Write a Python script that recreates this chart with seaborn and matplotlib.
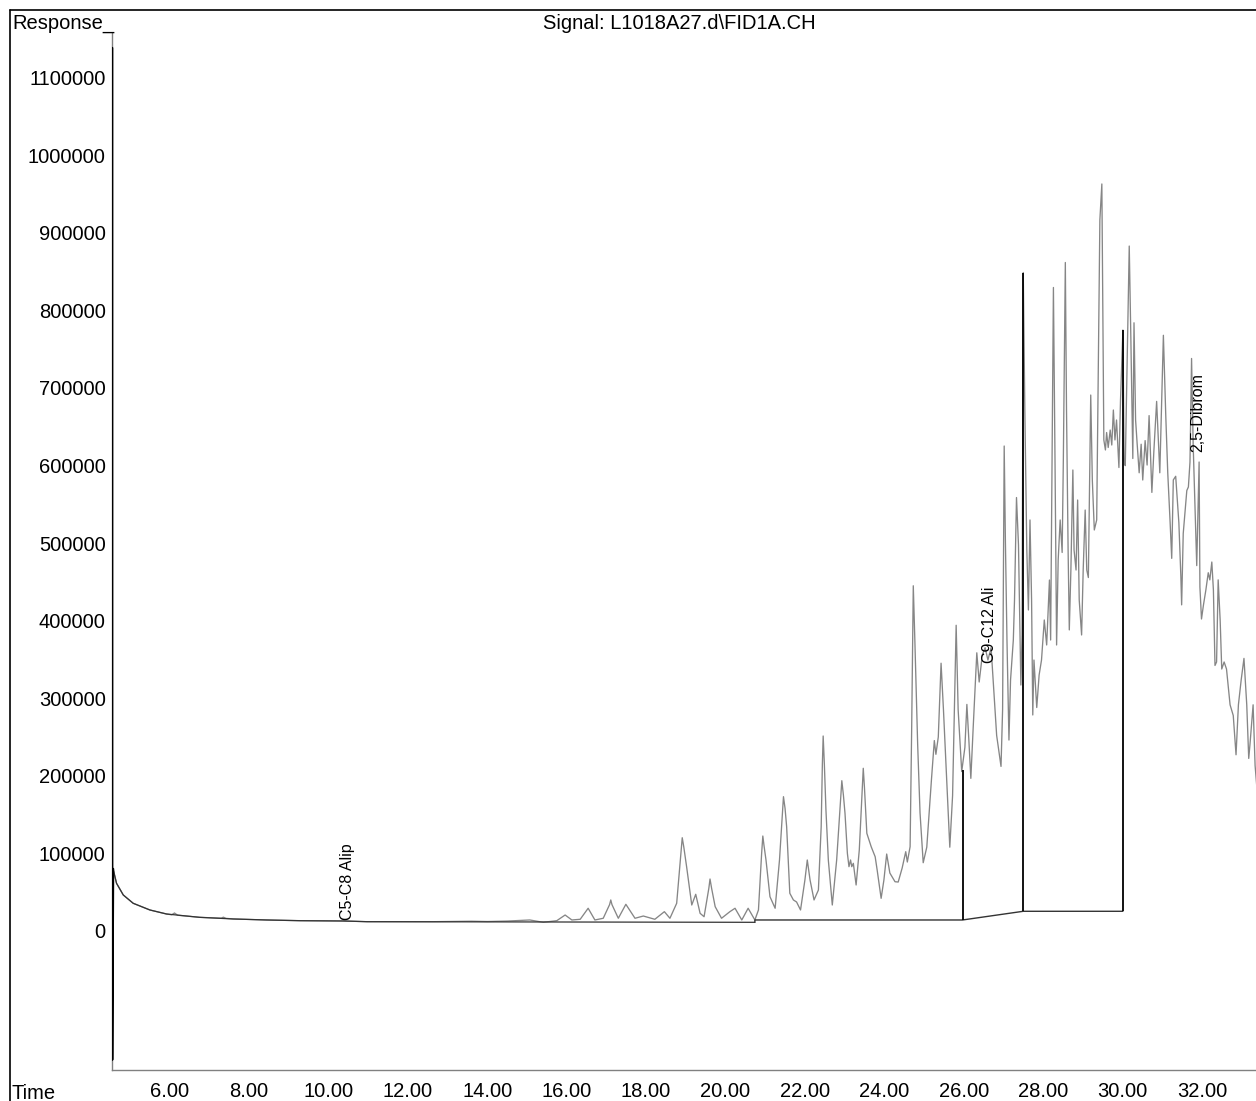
import matplotlib
matplotlib.use("Agg")
import matplotlib.pyplot as plt
from matplotlib.lines import Line2D
from matplotlib.ticker import FixedLocator, MultipleLocator, FormatStrFormatter
import seaborn as sns
import pandas as pd

# ---- FID signal: retention time (min) and detector response ----
time_min = [
    4.58, 4.66, 4.83, 5.08, 5.50, 5.92, 6.05, 6.12, 6.20, 6.76, 7.30, 7.35, 7.42, 7.60,
    8.44, 9.28, 10.37, 10.97, 12.64, 13.60, 14.00, 14.50, 15.07, 15.41, 15.75, 15.96,
    16.13, 16.34, 16.54, 16.71, 16.92, 17.08, 17.11, 17.14, 17.30, 17.49, 17.72, 17.93,
    18.22, 18.46, 18.60, 18.77, 18.87, 18.91, 18.95, 19.02, 19.15, 19.25, 19.36, 19.46,
    19.58, 19.61, 19.65, 19.74, 19.90, 20.11, 20.24, 20.41, 20.57, 20.74, 20.83, 20.91,
    20.94, 20.97, 21.02, 21.12, 21.25, 21.36, 21.42, 21.46, 21.50, 21.54, 21.62, 21.71,
    21.79, 21.89, 22.00, 22.06, 22.13, 22.23, 22.34, 22.41, 22.44, 22.46, 22.49, 22.53,
    22.59, 22.69, 22.80, 22.90, 22.93, 22.97, 23.01, 23.07, 23.11, 23.15, 23.18, 23.22,
    23.29, 23.37, 23.44, 23.47, 23.50, 23.56, 23.67, 23.77, 23.82, 23.92, 23.99, 24.06,
    24.14, 24.27, 24.35, 24.45, 24.54, 24.58, 24.65, 24.69, 24.73, 24.77, 24.84, 24.90,
    24.98, 25.07, 25.19, 25.26, 25.30, 25.36, 25.43, 25.49, 25.57, 25.65, 25.72, 25.81,
    25.86, 25.95, 26.03, 26.08, 26.13, 26.18, 26.24, 26.33, 26.39, 26.47, 26.54, 26.61,
    26.69, 26.75, 26.83, 26.94, 26.98, 27.02, 27.05, 27.09, 27.14, 27.18, 27.25, 27.28,
    27.33, 27.38, 27.44, 27.47, 27.50, 27.54, 27.59, 27.63, 27.67, 27.71, 27.74, 27.77,
    27.84, 27.90, 27.96, 28.03, 28.09, 28.16, 28.19, 28.26, 28.30, 28.34, 28.38, 28.43,
    28.48, 28.51, 28.56, 28.59, 28.63, 28.66, 28.70, 28.75, 28.78, 28.83, 28.87, 28.91,
    28.97, 29.01, 29.06, 29.10, 29.14, 29.18, 29.20, 29.24, 29.29, 29.35, 29.39, 29.43,
    29.48, 29.50, 29.53, 29.57, 29.60, 29.64, 29.69, 29.73, 29.77, 29.81, 29.85, 29.91,
    29.95, 30.01, 30.04, 30.07, 30.11, 30.17, 30.21, 30.26, 30.29, 30.33, 30.37, 30.42,
    30.47, 30.51, 30.57, 30.62, 30.67, 30.74, 30.79, 30.86, 30.94, 31.03, 31.09, 31.14,
    31.20, 31.24, 31.28, 31.34, 31.42, 31.47, 31.49, 31.53, 31.62, 31.66, 31.70, 31.74,
    31.78, 31.87, 31.93, 31.95, 31.99, 32.04, 32.10, 32.16, 32.20, 32.25, 32.29, 32.33,
    32.37, 32.41, 32.46, 32.50, 32.56, 32.62, 32.71, 32.79, 32.86, 32.92, 32.99, 33.06,
    33.13, 33.18, 33.21, 33.29, 33.34, 33.39,
]
response = [
    78600, 61500, 46400, 35700, 27100, 21900, 20900, 23200, 20300, 17600, 16500, 17800, 16300, 15500,
    14200, 13300, 12900, 12000, 12000, 12600, 12200, 12800, 14200, 11200, 13300, 20600,
    14200, 15100, 29300, 14200, 16400, 34000, 40000, 34000, 16400, 34400, 16400, 19300,
    15100, 24900, 16400, 35700, 95800, 120200, 108000, 82900, 33500, 47300, 22800, 18400,
    55000, 67000, 55000, 31300, 16400, 24900, 29300, 14200, 29300, 14200, 27100, 100000,
    122400, 110000, 91500, 44200, 29300, 91500, 140000, 173100, 158000, 134400, 48600, 40000,
    37400, 27100, 65700, 91500, 65700, 40000, 52800, 134400, 215000, 251300, 215000, 155900,
    91500, 33500, 91500, 170000, 193700, 175000, 151700, 100100, 82900, 91500, 82900, 87200,
    59300, 104400, 180000, 209700, 185000, 125900, 108600, 95700, 78600, 42100, 65700, 99200,
    74700, 63500, 63100, 81200, 102200, 88900, 108600, 263200, 444900, 374000, 241000, 152300,
    88000, 108000, 196700, 245400, 227700, 250000, 345100, 285300, 196700, 108000, 174500, 394000,
    285300, 205500, 236600, 292000, 246100, 196700, 263200, 358500, 320900, 356200, 365100, 349200,
    365100, 316400, 252100, 212100, 285300, 625000, 503900, 375000, 246100, 323500, 375000, 426600,
    558600, 497400, 317000, 381400, 848600, 671400, 491000, 413700, 529700, 426600, 278400, 349200,
    288000, 329900, 349200, 400800, 368600, 452300, 375000, 829300, 607000, 368600, 478100, 529700,
    487800, 607000, 861500, 671400, 491000, 388000, 465200, 594100, 491000, 465200, 555400, 426600,
    381500, 465200, 542500, 465200, 455500, 607000, 690700, 581200, 516800, 529700, 716500, 916300,
    962700, 832500, 632800, 619900, 642400, 623100, 645600, 626300, 671400, 632800, 658500, 597300,
    684300, 774500, 607000, 599700, 710100, 882700, 765500, 608900, 783800, 658500, 627300, 590500,
    627300, 581200, 632000, 600500, 664200, 565200, 618200, 682500, 590500, 767700, 664200, 590500,
    526200, 480200, 581300, 586000, 526200, 457100, 420300, 512300, 567600, 572200, 604400, 737800,
    627300, 470900, 604400, 443300, 402100, 420300, 439400, 461700, 452500, 475500, 439400, 342200,
    346700, 452500, 400800, 337600, 346700, 337600, 291500, 277700, 227100, 291500, 323700, 351300,
    291500, 222400, 239700, 291500, 213300, 181700,
]

# solvent front at injection
spike_time = [4.552, 4.552, 4.575]
spike_resp = [1138000, -166000, 80000]

# integration baselines
base1_time = [4.58, 4.66, 4.83, 5.08, 5.50, 5.92, 6.76, 7.60, 8.44, 9.28, 10.37, 10.97, 20.74]
base1_resp = [78600, 61500, 46400, 35700, 27100, 21900, 17600, 15500, 14200, 13300, 12900, 12000, 11200]
base2_time = [20.74, 20.74, 25.97, 27.50, 30.01]
base2_resp = [11200, 14200, 14200, 25400, 25400]

# drop lines at window boundaries
drop_time = [25.97, 27.50, 30.01]
drop_low = [14200, 25400, 25400]
drop_high = [208000, 848600, 774500]

# compound window labels
peak_names = ["C5-C8 Alip", "C9-C12 Ali", "2,5-Dibrom"]
peak_label_time = [10.49, 26.66, 31.90]
peak_label_resp = [14200, 345400, 617300]

x_ticks = [6, 8, 10, 12, 14, 16, 18, 20, 22, 24, 26, 28, 30, 32]
y_ticks = [0, 100000, 200000, 300000, 400000, 500000, 600000,
           700000, 800000, 900000, 1000000, 1100000]

sns.set_style("white")
plt.rcParams["font.family"] = ["Liberation Sans", "DejaVu Sans"]
plt.rcParams["text.color"] = "black"

W, H = 1256, 1101
fig = plt.figure(figsize=(W / 100, H / 100), dpi=100)
ax = fig.add_axes([112 / W, 31 / H, 1144 / W, 1037 / H])

trace = pd.DataFrame({"time": time_min, "response": response})
sns.lineplot(data=trace, x="time", y="response", ax=ax, estimator=None,
             sort=False, color="#868686", linewidth=0.95)

sns.lineplot(x=spike_time, y=spike_resp, ax=ax, estimator=None, sort=False,
             color="black", linewidth=1.6, zorder=4)
sns.lineplot(x=base1_time, y=base1_resp, ax=ax, estimator=None, sort=False,
             color="#333333", linewidth=0.9)
sns.lineplot(x=base2_time, y=base2_resp, ax=ax, estimator=None, sort=False,
             color="#333333", linewidth=1.0)
ax.vlines(drop_time, drop_low, drop_high, colors="black", linewidth=1.3)

for name, t, v in zip(peak_names, peak_label_time, peak_label_resp):
    ax.text(t, v, name, rotation=90, ha="center", va="bottom", fontsize=11.5,
            color="black")

ax.set_xlim(4.546, 33.363)
ax.set_ylim(-179130, 1157250)
ax.set_xlabel("")
ax.set_ylabel("")

for side in ("top", "right"):
    ax.spines[side].set_visible(False)
for side in ("left", "bottom"):
    ax.spines[side].set_color("#808080")
    ax.spines[side].set_linewidth(1.0)

ax.xaxis.set_major_locator(FixedLocator(x_ticks))
ax.xaxis.set_major_formatter(FormatStrFormatter("%.2f"))
ax.xaxis.set_minor_locator(MultipleLocator(0.4))
ax.yaxis.set_major_locator(FixedLocator(y_ticks))
ax.yaxis.set_major_formatter(FormatStrFormatter("%d"))
ax.yaxis.set_minor_locator(MultipleLocator(20000))

ax.tick_params(axis="x", which="major", direction="out", length=8, width=0.9,
               color="#808080", pad=0.5, labelsize=14.5, labelcolor="black")
ax.tick_params(axis="x", which="minor", direction="out", length=3.6, width=0.8,
               color="#808080")
ax.tick_params(axis="y", which="major", direction="out", length=3.6, width=0.9,
               color="#808080", pad=1, labelsize=14.5, labelcolor="black")
ax.tick_params(axis="y", which="minor", direction="out", length=2.2, width=0.8,
               color="#808080")
ax.grid(False)

# page frame
fig.add_artist(Line2D([9.5 / W, 9.5 / W], [0, (H - 10) / H], color="black",
                      linewidth=1.2, transform=fig.transFigure))
fig.add_artist(Line2D([9.5 / W, 1], [(H - 10) / H, (H - 10) / H], color="black",
                      linewidth=1.2, transform=fig.transFigure))

fig.text(12 / W, (H - 29) / H, "Response_", fontsize=14.5, ha="left", va="baseline")
fig.text(679 / W, (H - 29) / H, "Signal: L1018A27.d\\FID1A.CH", fontsize=14.5,
         ha="center", va="baseline")
fig.text(12 / W, (H - 1099) / H, "Time", fontsize=14.5, ha="left", va="baseline")

fig.savefig("out.png", dpi=100)
